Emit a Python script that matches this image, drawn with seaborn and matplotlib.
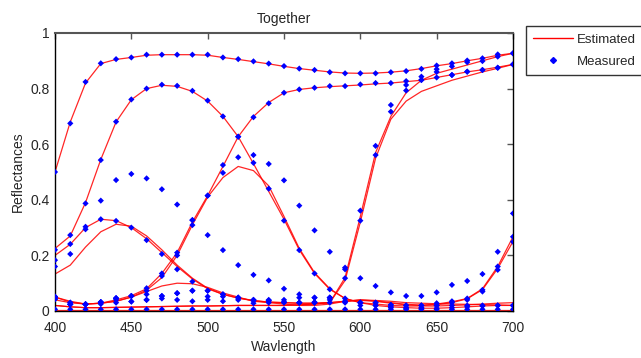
import numpy as np
import pandas as pd
import matplotlib
matplotlib.use("Agg")
import matplotlib.pyplot as plt
import seaborn as sns
from matplotlib.lines import Line2D

wavelength = list(range(400, 701, 10))

# Measured reflectances (blue diamonds)
white_meas = [.50, .675, .824, .891, .906, .912, .922, .922, .922, .922, .922, .912, .906, .898, .89, .881,
              .872, .867, .859, .855, .855, .855, .859, .863, .871, .883, .891, .901, .909, .923, .927]
blue_meas = [.22, .273, .387, .543, .681, .761, .80, .814, .81, .792, .757, .70, .627, .533, .44, .325,
             .219, .135, .078, .045, .03, .02, .012, .01, .01, .01, .012, .015, .018, .02, .02]
green_meas = [.05, .03, .025, .03, .046, .054, .082, .135, .21, .327, .415, .525, .627, .697, .747, .785,
              .797, .803, .809, .809, .815, .82, .82, .827, .831, .84, .849, .861, .867, .875, .887]
red_meas = [.05, .03, .024, .025, .03, .034, .04, .045, .04, .035, .04, .035, .04, .028, .03, .03,
            .03, .03, .048, .15, .361, .594, .741, .813, .843, .87, .88, .895, .899, .915, .927]
orange_meas = [.043, .024, .024, .032, .046, .054, .06, .054, .064, .073, .052, .052, .048, .04, .04, .04,
               .048, .048, .048, .118, .325, .561, .717, .793, .831, .86, .849, .861, .867, .875, .887]
cyan_meas = [.043, .024, .024, .032, .04, .034, .073, .126, .20, .309, .415, .497, .553, .561, .529, .47,
             .379, .29, .213, .156, .118, .09, .067, .054, .054, .067, .094, .108, .133, .213, .351]
purple_meas = [.183, .241, .303, .397, .471, .493, .477, .438, .383, .327, .273, .219, .165, .13, .11, .08,
               .06, .048, .04, .035, .03, .03, .022, .02, .02, .028, .035, .04, .076, .16, .267]
violet_meas = [.16, .205, .294, .33, .324, .30, .255, .205, .15, .106, .073, .06, .048, .037, .037, .032,
               .03, .032, .048, .034, .02, .02, .015, .012, .012, .02, .03, .045, .07, .148, .249]
dark_meas = [.052, .024, .024, .032, .046, .054, .04, .054, .064, .073, .073, .06, .048, .04, .037, .032,
             .03, .03, .03, .03, .03, .03, .022, .02, .02, .02, .02, .02, .02, .02, .02]
black_meas = [.006] * 31

# Estimated reflectances (red lines)
white_est = [.50, .68, .82, .89, .905, .912, .92, .922, .922, .922, .92, .912, .905, .897, .889, .88,
             .872, .866, .86, .856, .855, .856, .859, .864, .872, .882, .89, .9, .909, .92, .927]
blue_est = [.225, .27, .39, .545, .68, .76, .80, .812, .808, .79, .755, .70, .627, .53, .43, .33,
            .22, .135, .078, .045, .03, .02, .015, .012, .01, .01, .012, .015, .018, .02, .02]
green_est = [.05, .035, .025, .028, .04, .055, .08, .135, .21, .32, .415, .52, .627, .70, .75, .785,
             .797, .803, .807, .81, .813, .817, .82, .825, .83, .84, .85, .86, .868, .877, .887]
red_est = [.02, .015, .012, .012, .013, .014, .015, .016, .017, .018, .018, .019, .02, .02, .02, .02,
           .022, .025, .03, .12, .34, .57, .70, .785, .83, .855, .87, .885, .9, .915, .927]
orange_est = [.02, .015, .012, .012, .013, .014, .015, .016, .017, .018, .018, .019, .02, .02, .02, .02,
              .022, .025, .03, .11, .32, .55, .69, .755, .79, .81, .83, .845, .86, .873, .887]
cyan_est = [.04, .03, .025, .028, .035, .05, .075, .12, .20, .31, .41, .48, .52, .505, .45, .34,
            .225, .138, .08, .045, .03, .025, .02, .018, .018, .018, .02, .022, .025, .028, .03]
purple_est = [.133, .165, .23, .285, .312, .305, .27, .22, .165, .118, .082, .06, .046, .037, .032, .03,
              .028, .028, .03, .035, .038, .035, .028, .022, .02, .023, .03, .044, .077, .153, .25]
violet_est = [.20, .24, .30, .33, .325, .30, .26, .21, .16, .115, .08, .06, .047, .038, .032, .03,
              .028, .028, .03, .035, .04, .036, .03, .024, .021, .025, .033, .045, .08, .16, .267]
dark_est = [.05, .032, .025, .028, .035, .05, .07, .09, .10, .098, .085, .065, .05, .035, .03, .025,
            .02, .02, .025, .035, .04, .038, .035, .03, .028, .026, .025, .024, .023, .022, .02]
black_est = [.005] * 31

measured = {"white": white_meas, "blue": blue_meas, "green": green_meas, "red": red_meas,
            "orange": orange_meas, "cyan": cyan_meas, "purple": purple_meas, "violet": violet_meas,
            "dark": dark_meas, "black": black_meas}
estimated = {"white": white_est, "blue": blue_est, "green": green_est, "red": red_est,
             "orange": orange_est, "cyan": cyan_est, "purple": purple_est, "violet": violet_est,
             "dark": dark_est, "black": black_est}

est_df = pd.DataFrame([(k, w, v) for k, vals in estimated.items() for w, v in zip(wavelength, vals)],
                      columns=["patch", "Wavlength", "Reflectances"])
meas_df = pd.DataFrame([(k, w, v) for k, vals in measured.items() for w, v in zip(wavelength, vals)],
                       columns=["patch", "Wavlength", "Reflectances"])

sns.set_style("white")
plt.rcParams['font.family'] = ['Liberation Sans', 'DejaVu Sans']

fig = plt.figure(figsize=(6.41, 3.58), dpi=100)
ax = fig.add_axes([55 / 641, 1 - 311 / 358, 458 / 641, 278 / 358])

names = list(estimated.keys())
sns.lineplot(data=est_df, x="Wavlength", y="Reflectances", hue="patch",
             palette={n: "#ff0000" for n in names}, linewidth=0.9, alpha=0.85,
             legend=False, ax=ax, estimator=None)
sns.scatterplot(data=meas_df, x="Wavlength", y="Reflectances", hue="patch",
                palette={n: "#0000ff" for n in names}, marker="D", s=10, linewidth=0,
                legend=False, ax=ax, zorder=3)

ax.set_xlim(400, 700)
ax.set_ylim(0, 1)
ax.set_xticks([400, 450, 500, 550, 600, 650, 700])
ax.set_yticks([0, 0.2, 0.4, 0.6, 0.8, 1])
ax.set_yticklabels(["0", "0.2", "0.4", "0.6", "0.8", "1"])
ax.tick_params(direction="in", top=True, right=True, length=4, width=1, color="#555555",
               labelsize=10)
ax.tick_params(axis="x", pad=7)
ax.tick_params(axis="y", pad=4)
for side in ["left", "bottom", "right"]:
    ax.spines[side].set_color("black")
    ax.spines[side].set_linewidth(1)
ax.spines["top"].set_color("#555555")
ax.spines["top"].set_linewidth(1.5)
ax.set_xlabel("Wavlength", fontsize=10, labelpad=4)
ax.set_ylabel("Reflectances", fontsize=10, labelpad=4)
ax.set_title("Together", fontsize=10, pad=7)

handles = [Line2D([0], [0], color="#ff0000", lw=1),
           Line2D([0], [0], color="#0000ff", lw=0, marker="D", markersize=3)]
leg = ax.legend(handles, ["Estimated", "Measured"], loc="upper left",
                bbox_to_anchor=(1.028, 1.025), borderaxespad=0, fancybox=False,
                frameon=True, fontsize=9.5, handlelength=3.0, borderpad=0.55,
                labelspacing=0.75, handletextpad=0.35)
leg.get_frame().set_edgecolor("black")
leg.get_frame().set_linewidth(1)

fig.savefig("out.png", dpi=100)
